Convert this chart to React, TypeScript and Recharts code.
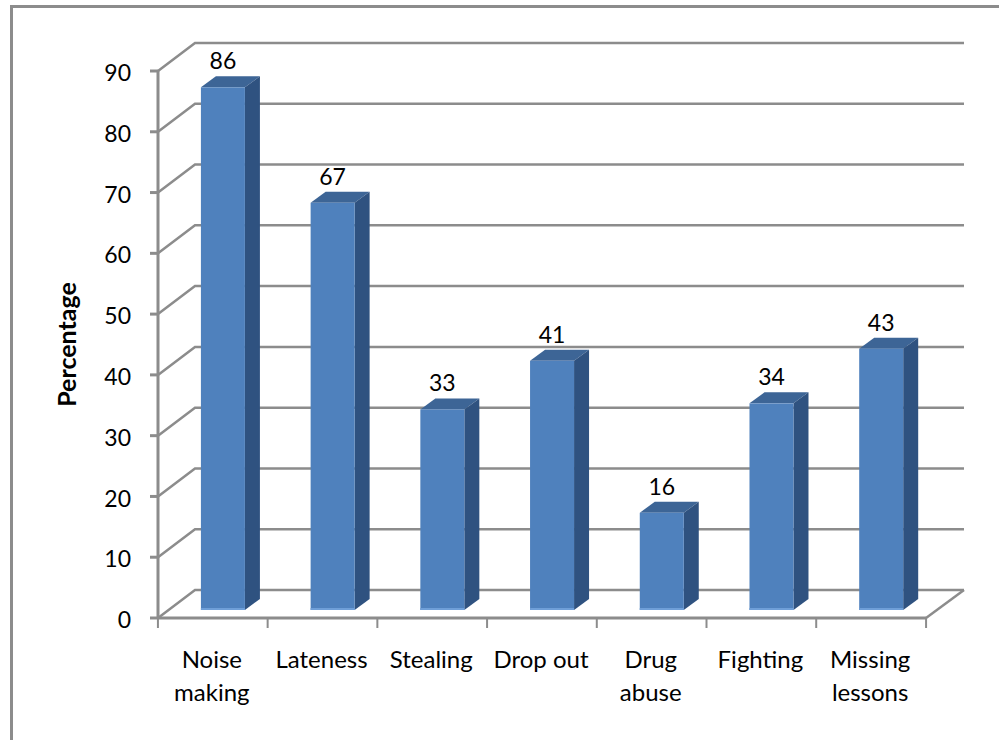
import { BarChart, Bar, XAxis, YAxis, CartesianGrid, LabelList } from "recharts";

const categories = ["Noise making", "Lateness", "Stealing", "Drop out", "Drug abuse", "Fighting", "Missing lessons"];
const percentages = [86, 67, 33, 41, 16, 34, 43];
const yTicks = [0, 10, 20, 30, 40, 50, 60, 70, 80, 90];

const chartData = categories.map((name, i) => ({ name, value: percentages[i] }));

const FONT = "Lato, sans-serif";
const GREY = "#8c8c8c";
const BAND = 769 / categories.length;

// wall depth of the fake 3D box, and the same for the bars
const WALL_X = 37;
const WALL_Y = -28;
const BAR_DX = 10;
const BAR_DY = -8;
const DEPTH_X = 15;
const DEPTH_Y = -11;

function Bar3D({ x, y, width, height }: any) {
  const fx = x + BAR_DX;
  const fy = y + BAR_DY;
  const r = fx + width;
  const b = fy + height;
  return (
    <g>
      <polygon
        points={`${fx},${fy} ${fx + DEPTH_X},${fy + DEPTH_Y} ${r + DEPTH_X},${fy + DEPTH_Y} ${r},${fy}`}
        fill="#3d6596"
      />
      <polygon
        points={`${r},${fy} ${r + DEPTH_X},${fy + DEPTH_Y} ${r + DEPTH_X},${b + DEPTH_Y} ${r},${b}`}
        fill="#2f5280"
      />
      <rect x={fx} y={fy} width={width} height={height} fill="#4f81bd" />
      <rect x={fx} y={b - 2} width={width} height={2} fill="#6f9fd8" />
    </g>
  );
}

function GridLine({ x1, y1, x2, index }: any) {
  const backX = x2 + WALL_X + 1;
  const backY = y1 + WALL_Y;
  return (
    <g>
      <polyline
        points={`${x1},${y1} ${x1 + WALL_X},${backY} ${backX},${backY}`}
        fill="none"
        stroke={GREY}
        strokeWidth={2.5}
      />
      {/* right edge of the floor, only on the zero line */}
      {index === 0 && <line x1={x2} y1={y1} x2={backX} y2={backY} stroke={GREY} strokeWidth={2.5} />}
    </g>
  );
}

function CategoryTick({ x, y, payload, index }: any) {
  const words = payload.value === "Drop out" ? [payload.value] : payload.value.split(" ");
  const left = x - BAND / 2;
  return (
    <g>
      <line x1={left} y1={618} x2={left} y2={628} stroke={GREY} strokeWidth={2} />
      {index === categories.length - 1 && (
        <line x1={left + BAND} y1={618} x2={left + BAND} y2={628} stroke={GREY} strokeWidth={2} />
      )}
      <text x={x - 1} y={y} textAnchor="middle" fontFamily={FONT} fontSize={24} fill="#000">
        {words.map((w: string, i: number) => (
          <tspan key={w} x={x - 1} dy={i === 0 ? 0 : 33}>
            {w}
          </tspan>
        ))}
      </text>
    </g>
  );
}

function ValueLabel({ x, y, width, value }: any) {
  return (
    <text
      x={x + width / 2 + BAR_DX}
      y={y + BAR_DY - 18}
      textAnchor="middle"
      fontFamily={FONT}
      fontSize={23}
      fill="#000"
    >
      {value}
    </text>
  );
}

export default function App() {
  return (
    <div style={{ position: "absolute", left: 0, top: 0, width: 999, height: 740, background: "#fff", overflow: "hidden" }}>
      <div
        style={{
          position: "absolute",
          left: 10,
          top: 5,
          width: 1020,
          height: 760,
          border: "3px solid " + GREY,
          boxSizing: "border-box",
        }}
      />
      <BarChart
        width={999}
        height={740}
        data={chartData}
        margin={{ top: 71, right: 73, bottom: 0, left: 78 }}
        barCategoryGap="30%"
        style={{ position: "absolute", left: 0, top: 0 }}
      >
        <CartesianGrid
          horizontal={(p: any) => <GridLine key={p.y1} {...p} index={p.y1 > 600 ? 0 : 1} />}
          vertical={false}
        />
        <XAxis
          dataKey="name"
          height={122}
          interval={0}
          stroke={GREY}
          strokeWidth={3}
          tickLine={false}
          tick={CategoryTick}
          tickMargin={44}
        />
        <YAxis
          width={80}
          domain={[0, 90]}
          ticks={yTicks}
          interval={0}
          stroke={GREY}
          strokeWidth={3}
          tickSize={8}
          tickMargin={19}
          tick={{ fill: "#000", fontFamily: FONT, fontSize: 23, dy: 2 }}
          label={{
            value: "Percentage",
            angle: -90,
            position: "insideLeft",
            offset: -11,
            style: { textAnchor: "middle", fontFamily: FONT, fontSize: 25, fontWeight: 700, fill: "#000" },
          }}
        />
        <Bar dataKey="value" isAnimationActive={false} shape={Bar3D}>
          <LabelList dataKey="value" content={ValueLabel} />
        </Bar>
      </BarChart>
    </div>
  );
}
